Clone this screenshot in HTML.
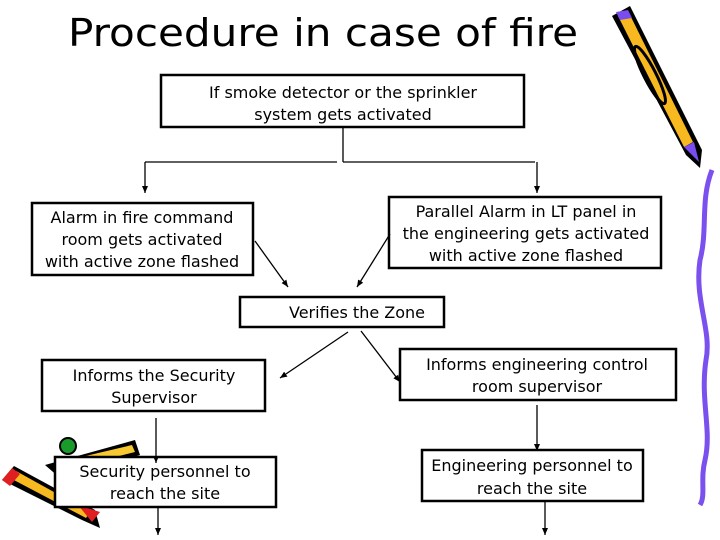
<!DOCTYPE html>
<html><head><meta charset="utf-8"><style>
html,body{margin:0;padding:0;background:#fff;width:720px;height:540px;overflow:hidden}
text{font-family:"DejaVu Sans","Liberation Sans",sans-serif;fill:#000}
</style></head><body>
<svg width="720" height="540" viewBox="0 0 720 540" xmlns="http://www.w3.org/2000/svg">
<defs>
<marker id="b" markerWidth="8" markerHeight="8" refX="7" refY="4" orient="auto" markerUnits="userSpaceOnUse">
<path d="M0,1 L7,4 L0,7 Z" fill="#000"/></marker></defs>
<!-- right pencil -->
<g>
<polygon points="612,16 630,6 702,150 700,168 686,155" fill="#000"/>
<polygon points="618,16 628,11 693,142 684,147" fill="#f8b820"/>
<ellipse cx="650" cy="75" rx="6" ry="32" transform="rotate(-27 650 75)" fill="none" stroke="#000" stroke-width="3"/>
<polygon points="616,12 628,10 632,18 620,20" fill="#7a4df0"/>
<polygon points="684,147 694,142 699,162" fill="#7a4df0"/>
</g>
<path d="M712,170 C700,200 708,230 700,260 C694,300 712,330 706,360 C700,400 712,430 705,460 C700,480 706,495 700,505" fill="none" stroke="#7a50ee" stroke-width="5"/>
<!-- left pencils -->
<g>
<polygon points="45,465 135,440 140,455 60,478" fill="#000"/>
<polygon points="60,462 132,445 135,452 64,470" fill="#f8c830"/>
<circle cx="68" cy="446" r="8" fill="#1a9a2a" stroke="#000" stroke-width="2"/>
<polygon points="2,480 14,466 95,510 100,528 82,520" fill="#000"/>
<polygon points="10,478 16,471 90,512 86,518" fill="#f8b820"/>
<polygon points="2,480 12,468 20,474 10,486" fill="#e02020"/>
<polygon points="78,505 100,512 92,522" fill="#e02020"/>
</g>
<text x="68" y="46" font-size="38" textLength="510" lengthAdjust="spacingAndGlyphs">Procedure in case of fire</text>
<g fill="#fff" stroke="#000" stroke-width="2.5">
<rect x="161" y="75" width="363" height="52"/>
<rect x="32" y="203" width="221" height="72"/>
<rect x="389" y="197" width="272" height="71"/>
<rect x="240" y="297" width="204" height="30"/>
<rect x="42" y="360" width="223" height="51"/>
<rect x="400" y="349" width="276" height="51"/>
<rect x="55" y="457" width="221" height="50"/>
<rect x="422" y="450" width="221" height="51"/>
</g>
<g fill="none" stroke="#000" stroke-width="1.3">
<path d="M343,127 V162 M145,162 H337 M343,162 H535"/>
<path d="M145,162 V193" marker-end="url(#b)"/>
<path d="M537,162 V193" marker-end="url(#b)"/>
<path d="M255,241 L288,287" marker-end="url(#b)"/>
<path d="M390,234 L357,287" marker-end="url(#b)"/>
<path d="M348,332 L280,378" marker-end="url(#b)"/>
<path d="M361,331 L400,382" marker-end="url(#b)"/>
<path d="M156,418 V463" marker-end="url(#b)"/>
<path d="M537,405 V451" marker-end="url(#b)"/>
<path d="M158,507 V535" marker-end="url(#b)"/>
<path d="M545,501 V535" marker-end="url(#b)"/>
</g>
<g font-size="16" text-anchor="middle">
<text x="343" y="98">If smoke detector or the sprinkler</text>
<text x="343" y="120">system gets activated</text>
<text x="142" y="223">Alarm in fire command</text>
<text x="142" y="245">room gets activated</text>
<text x="142" y="267">with active zone flashed</text>
<text x="526" y="217">Parallel Alarm in LT panel in</text>
<text x="526" y="239">the engineering gets activated</text>
<text x="526" y="261">with active zone flashed</text>
<text x="357" y="318">Verifies the Zone</text>
<text x="154" y="381">Informs the Security</text>
<text x="154" y="403">Supervisor</text>
<text x="537" y="370">Informs engineering control</text>
<text x="537" y="392">room supervisor</text>
<text x="165" y="477">Security personnel to</text>
<text x="165" y="499">reach the site</text>
<text x="532" y="471">Engineering personnel to</text>
<text x="532" y="494">reach the site</text>
</g>
</svg>
</body></html>
